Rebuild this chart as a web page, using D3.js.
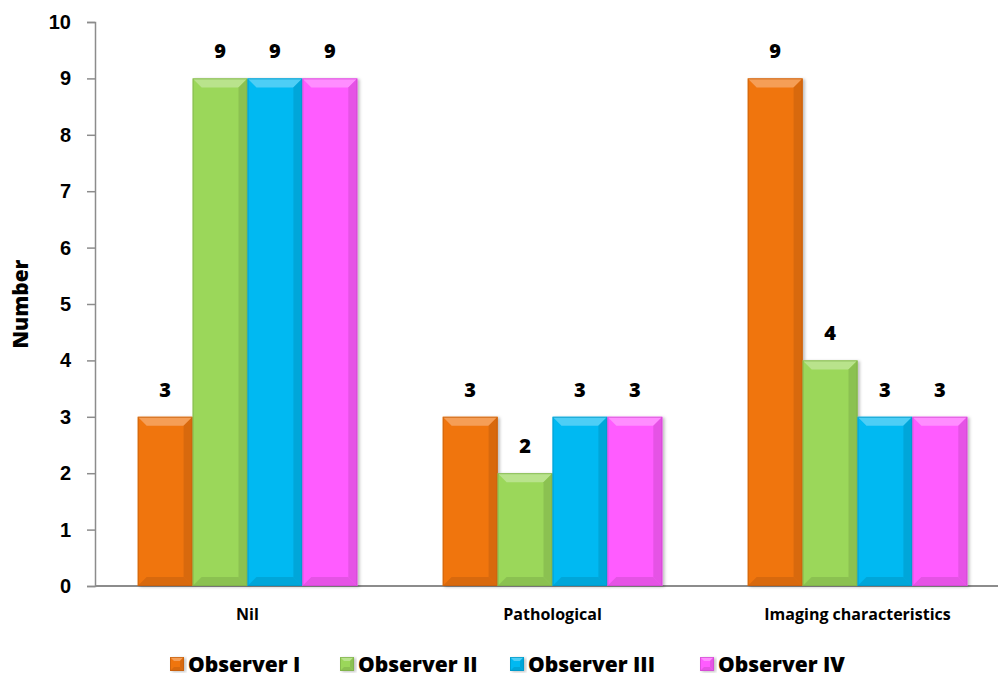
<!DOCTYPE html>
<html>
<head>
<meta charset="utf-8">
<script src="https://cdn.jsdelivr.net/npm/d3@7"></script>
<style>
  html, body { margin: 0; padding: 0; background: #fff; }
  svg { display: block; font-family: "Open Sans", "Liberation Sans", sans-serif; }
</style>
</head>
<body>
<svg id="chart" width="998" height="680"></svg>
<script>
// Categories and series
const categories = ["Nil", "Pathological", "Imaging characteristics"];
const seriesNames = ["Observer I", "Observer II", "Observer III", "Observer IV"];
const observerI   = [3, 3, 9];
const observerII  = [9, 2, 4];
const observerIII = [9, 3, 3];
const observerIV  = [9, 3, 3];
const seriesValues = [observerI, observerII, observerIII, observerIV];
const yTicks = [0, 1, 2, 3, 4, 5, 6, 7, 8, 9, 10];
const colors = ["#F0750F", "#9BD75A", "#00B9F2", "#FF5CFF"];

const svg = d3.select("#chart");
const margin = { left: 95, top: 22, bottom: 586, right: 1010 };
const W = 800; // heavy text weight

const x0 = d3.scaleBand().domain(categories).range([margin.left, margin.right])
  .paddingInner(0.28).paddingOuter(0.14);
const x1 = d3.scaleBand().domain(seriesNames).range([0, x0.bandwidth()]);
const y = d3.scaleLinear().domain([0, 10]).range([margin.bottom, margin.top]);

// Y axis
const yAxis = d3.axisLeft(y).tickValues(yTicks).tickSize(8).tickPadding(16).tickFormat(d3.format("d"));
const gy = svg.append("g").attr("transform", `translate(${margin.left},0)`).call(yAxis);
gy.select(".domain").attr("stroke", "#8c8c8c").attr("stroke-width", 1.5);
gy.selectAll(".tick line").attr("stroke", "#8c8c8c").attr("stroke-width", 1.5);
gy.selectAll(".tick text").attr("font-size", 20).attr("font-weight", W).attr("fill", "#000");

// X axis baseline and labels
svg.append("line").attr("x1", margin.left).attr("x2", 998)
  .attr("y1", y(0)).attr("y2", y(0)).attr("stroke", "#8c8c8c").attr("stroke-width", 2);
svg.append("g").selectAll("text").data(categories).join("text")
  .attr("x", d => x0(d) + x0.bandwidth() / 2)
  .attr("y", 620)
  .attr("text-anchor", "middle")
  .attr("font-size", 16).attr("font-weight", 700)
  .text(d => d);

// Y title
svg.append("text")
  .attr("transform", `translate(28,${(y(0) + y(10)) / 2}) rotate(-90)`)
  .attr("text-anchor", "middle")
  .attr("font-size", 21).attr("font-weight", W)
  .text("Number");

// Drop shadow for bars
const defs = svg.append("defs");
const f = defs.append("filter").attr("id", "shadow").attr("x", "-10%").attr("y", "-10%").attr("width", "130%").attr("height", "120%");
f.append("feDropShadow").attr("dx", 2).attr("dy", 1).attr("stdDeviation", 1.5).attr("flood-color", "#000").attr("flood-opacity", 0.25);

// Bevelled bar drawing
function bevelBar(g, bx, by, bw, bh, color, b) {
  const c = d3.color(color);
  const light = d3.interpolateRgb(color, "#ffffff")(0.3);
  const dark = c.darker(0.3).formatHex();
  const darker = c.darker(0.6).formatHex();
  const grp = g.append("g").attr("filter", "url(#shadow)");
  grp.append("rect").attr("x", bx).attr("y", by).attr("width", bw).attr("height", bh).attr("fill", color);
  const bb = Math.min(b, bh / 2);
  // top bevel
  grp.append("polygon").attr("points", [[bx, by], [bx + bw, by], [bx + bw - bb, by + bb], [bx + bb, by + bb]].join(" "))
    .attr("fill", light);
  // right bevel
  grp.append("polygon").attr("points", [[bx + bw, by], [bx + bw, by + bh], [bx + bw - bb, by + bh - bb], [bx + bw - bb, by + bb]].join(" "))
    .attr("fill", dark);
  // bottom bevel
  grp.append("polygon").attr("points", [[bx, by + bh], [bx + bb, by + bh - bb], [bx + bw - bb, by + bh - bb], [bx + bw, by + bh]].join(" "))
    .attr("fill", dark);
  grp.append("rect").attr("x", bx + 0.5).attr("y", by + 0.5).attr("width", bw - 1).attr("height", bh - 1)
    .attr("fill", "none").attr("stroke", darker).attr("stroke-width", 1).attr("stroke-opacity", 0.7);
}

const barsG = svg.append("g");
const labelsG = svg.append("g");
categories.forEach((cat, ci) => {
  seriesNames.forEach((s, si) => {
    const v = seriesValues[si][ci];
    const bx = x0(cat) + x1(s);
    const bw = x1.bandwidth();
    bevelBar(barsG, bx, y(v), bw, y(0) - y(v), colors[si], 9);
    labelsG.append("text")
      .attr("x", bx + bw / 2).attr("y", y(v) - 20)
      .attr("text-anchor", "middle")
      .attr("font-size", 20).attr("font-weight", W)
      .text(v);
  });
});

// Legend
const legendX = [170, 340, 510, 700];
const leg = svg.append("g");
seriesNames.forEach((s, i) => {
  bevelBar(leg, legendX[i], 657, 14, 14, colors[i], 4);
  leg.append("text").attr("x", legendX[i] + 18).attr("y", 672)
    .attr("font-size", 21).attr("font-weight", W).text(s);
});
</script>
</body>
</html>
